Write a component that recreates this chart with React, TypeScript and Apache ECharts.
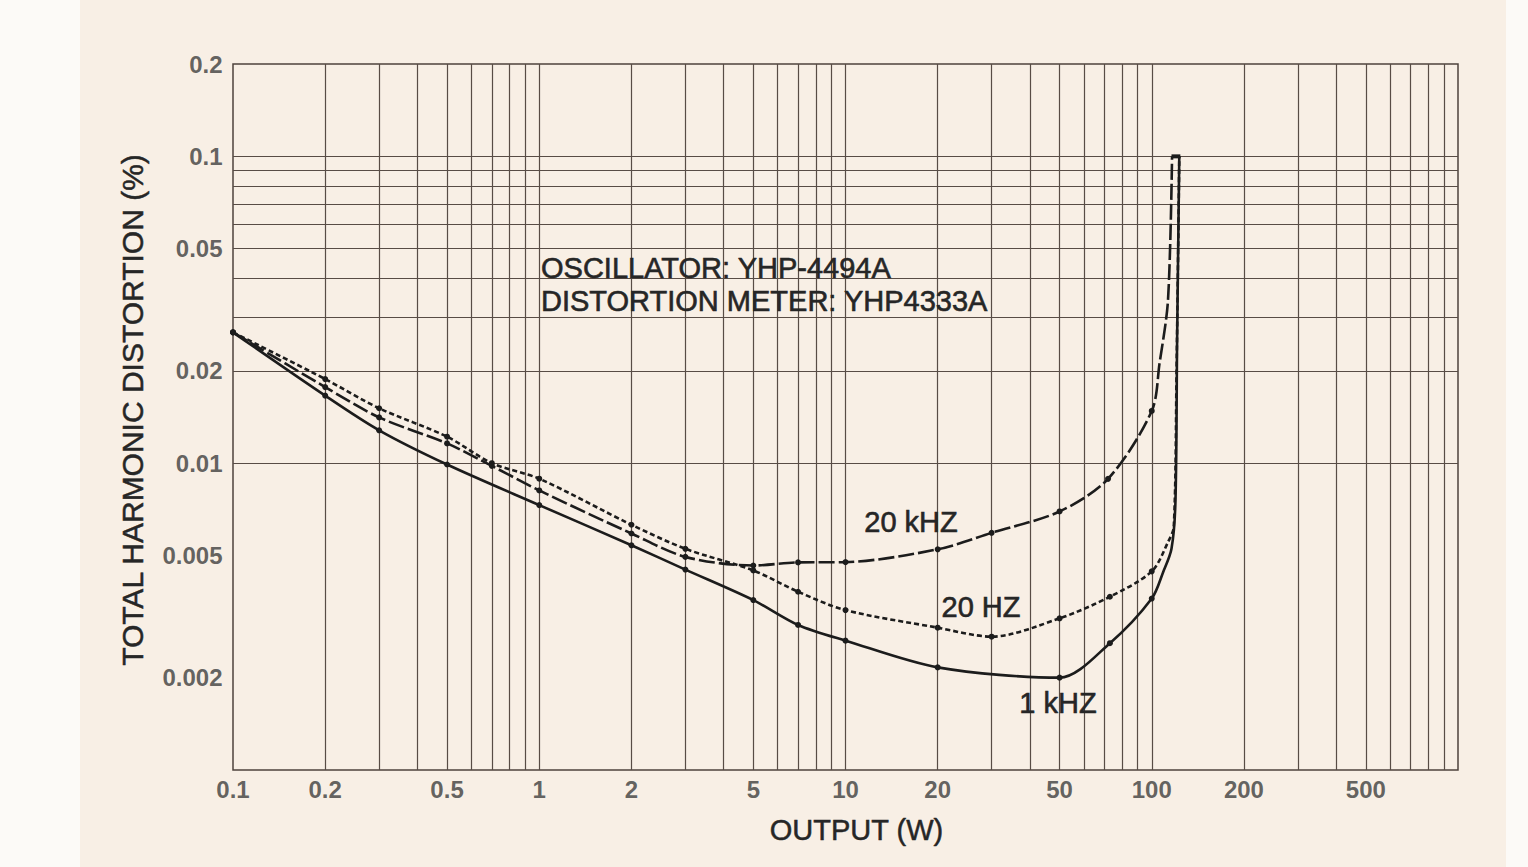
import React, { useEffect, useRef } from 'react';
import * as echarts from 'echarts';

const FONT = '"Liberation Sans", Arial, Helvetica, sans-serif';

// Tick labels
const xTickLabels = [0.1, 0.2, 0.5, 1, 2, 5, 10, 20, 50, 100, 200, 500];
const yTickLabels = [0.2, 0.1, 0.05, 0.02, 0.01, 0.005, 0.002];

// Log-paper grid lines
const xGridLines = [0.2, 0.3, 0.4, 0.5, 0.6, 0.7, 0.8, 0.9, 1, 2, 3, 4, 5, 6, 7, 8, 9, 10, 20, 30, 40, 50, 60, 70, 80, 90, 100, 200, 300, 400, 500, 600, 700, 800, 900];
const yGridLines = [0.002, 0.003, 0.004, 0.005, 0.006, 0.007, 0.008, 0.009, 0.01, 0.02, 0.03, 0.04, 0.05, 0.06, 0.07, 0.08, 0.09, 0.1];

// 1 kHz (solid)
const x1k = [0.1, 0.2, 0.3, 0.5, 1, 2, 3, 5, 7, 10, 20, 50, 73, 100, 109, 116, 119.5, 121, 123];
const y1k = [0.0267, 0.0166, 0.0128, 0.0099, 0.0073, 0.0054, 0.0045, 0.00358, 0.00297, 0.00264, 0.00216, 0.002, 0.00259, 0.00362, 0.00442, 0.00526, 0.0075, 0.025, 0.1];

// 20 Hz (short dashes)
const x20 = [0.1, 0.2, 0.3, 0.5, 0.7, 1, 2, 3, 5, 7, 10, 20, 30, 50, 73, 100, 113, 118, 120.5, 123];
const y20 = [0.0267, 0.0188, 0.0151, 0.0122, 0.01, 0.0089, 0.0063, 0.00526, 0.00447, 0.00381, 0.00332, 0.00291, 0.00272, 0.00312, 0.00367, 0.00444, 0.00553, 0.0062, 0.02, 0.1];

// 20 kHz (long dashes)
const x20k = [0.1, 0.2, 0.3, 0.5, 0.7, 1, 2, 3, 5, 7, 10, 20, 30, 50, 72, 100, 106, 113, 116.5];
const y20k = [0.0267, 0.0177, 0.0141, 0.0116, 0.0098, 0.00815, 0.0059, 0.00495, 0.00464, 0.00475, 0.00476, 0.00524, 0.00593, 0.00696, 0.00889, 0.0148, 0.0211, 0.034, 0.1];

// clipping cap
const xCap = [116, 124];
const yCap = [0.1, 0.1];

const CURVE = '#1c1c1c';
const GRIDC = '#584c45';
const TEXTC = '#262626';

export default function App() {
  const ref = useRef<HTMLDivElement>(null);
  useEffect(() => {
    const chart = echarts.init(ref.current!, null, { renderer: 'svg' });
    const pair = (xs: number[], ys: number[]) => xs.map((x, i) => [x, ys[i]]);
    const curve = (name: string, xs: number[], ys: number[], type: any) => ({
      type: 'line',
      name,
      data: pair(xs, ys),
      smooth: 0.3,
      z: 5,
      symbol: 'circle',
      symbolSize: (v: number[]) => (v[0] > 101 ? 0 : 6),
      itemStyle: { color: CURVE },
      lineStyle: { color: CURVE, width: 2.6, type },
      silent: true,
    });
    const txt = (text: string, x: number, y: number, size: number, align: string) => ({
      type: 'text', x, y, z: 10,
      style: {
        text, fontFamily: FONT, fontSize: size, fill: TEXTC, align, verticalAlign: 'middle',
        stroke: TEXTC, lineWidth: 0.6,
      },
    });
    chart.setOption({
      animation: false,
      backgroundColor: '#f8efe5',
      grid: { left: 233, top: 64, right: 70, bottom: 97, show: true, borderColor: '#4d433c', borderWidth: 1.5, backgroundColor: 'transparent' },
      xAxis: {
        type: 'log', logBase: 10, min: 0.1, max: 1000,
        axisLabel: { show: false }, axisTick: { show: false }, axisLine: { show: false }, splitLine: { show: false },
        name: 'OUTPUT (W)', nameLocation: 'middle', nameGap: 45,
        nameTextStyle: { fontFamily: FONT, fontSize: 29, color: TEXTC, padding: [0, 0, 0, 22], textBorderColor: TEXTC, textBorderWidth: 0.5 },
      },
      yAxis: {
        type: 'log', logBase: 10, min: 0.001, max: 0.2,
        axisLabel: { show: false }, axisTick: { show: false }, axisLine: { show: false }, splitLine: { show: false },
        name: 'TOTAL HARMONIC DISTORTION (%)', nameLocation: 'middle', nameGap: 86,
        nameTextStyle: { fontFamily: FONT, fontSize: 30, color: TEXTC, padding: [0, 0, 0, 14], textBorderColor: TEXTC, textBorderWidth: 0.5 },
      },
      graphic: [
        { type: 'rect', z: -10, shape: { x: 0, y: 0, width: 80, height: 867 }, style: { fill: '#fcfaf7' } },
        { type: 'rect', z: -10, shape: { x: 1506, y: 0, width: 22, height: 867 }, style: { fill: '#fcfaf7' } },
        txt('OSCILLATOR: YHP-4494A', 541, 268, 29, 'left'),
        txt('DISTORTION METER: YHP4333A', 541, 301, 29, 'left'),
        txt('20 kHZ', 911, 522, 29, 'center'),
        txt('20 HZ', 981, 607, 29, 'center'),
        txt('1 kHZ', 1058, 703, 29, 'center'),
      ],
      series: [
        {
          type: 'scatter',
          name: 'xticks',
          data: xTickLabels.map((v) => [v, 0.001]),
          symbolSize: 1,
          itemStyle: { color: 'transparent' },
          silent: true,
          z: 1,
          label: {
            show: true, position: 'bottom', distance: 7,
            formatter: (p: any) => String(p.value[0]),
            fontFamily: FONT, fontSize: 24, fontWeight: 'bold', color: '#3c3c3c',
          },
          markLine: {
            silent: true, symbol: ['none', 'none'], animation: false,
            label: { show: false },
            lineStyle: { color: GRIDC, width: 1.2, type: 'solid' },
            data: [
              ...xGridLines.map((v) => ({ xAxis: v })),
              ...yGridLines.map((v) => ({ yAxis: v })),
            ],
          },
        },
        {
          type: 'scatter',
          name: 'yticks',
          data: yTickLabels.map((v) => [0.1, v]),
          symbolSize: 1,
          itemStyle: { color: 'transparent' },
          silent: true,
          z: 1,
          label: {
            show: true, position: 'left', distance: 10,
            formatter: (p: any) => String(p.value[1]),
            fontFamily: FONT, fontSize: 24, fontWeight: 'bold', color: '#3c3c3c',
          },
        },
        curve('1 kHz', x1k, y1k, 'solid'),
        curve('20 Hz', x20, y20, [5, 3]),
        curve('20 kHz', x20k, y20k, [16, 4]),
        {
          type: 'line', name: 'clip', data: pair(xCap, yCap), symbol: 'none', z: 6, silent: true,
          lineStyle: { color: CURVE, width: 4 },
        },
      ],
    });
    return () => chart.dispose();
  }, []);
  return <div ref={ref} style={{ position: 'fixed', left: 0, top: 0, width: 1528, height: 867 }} />;
}
